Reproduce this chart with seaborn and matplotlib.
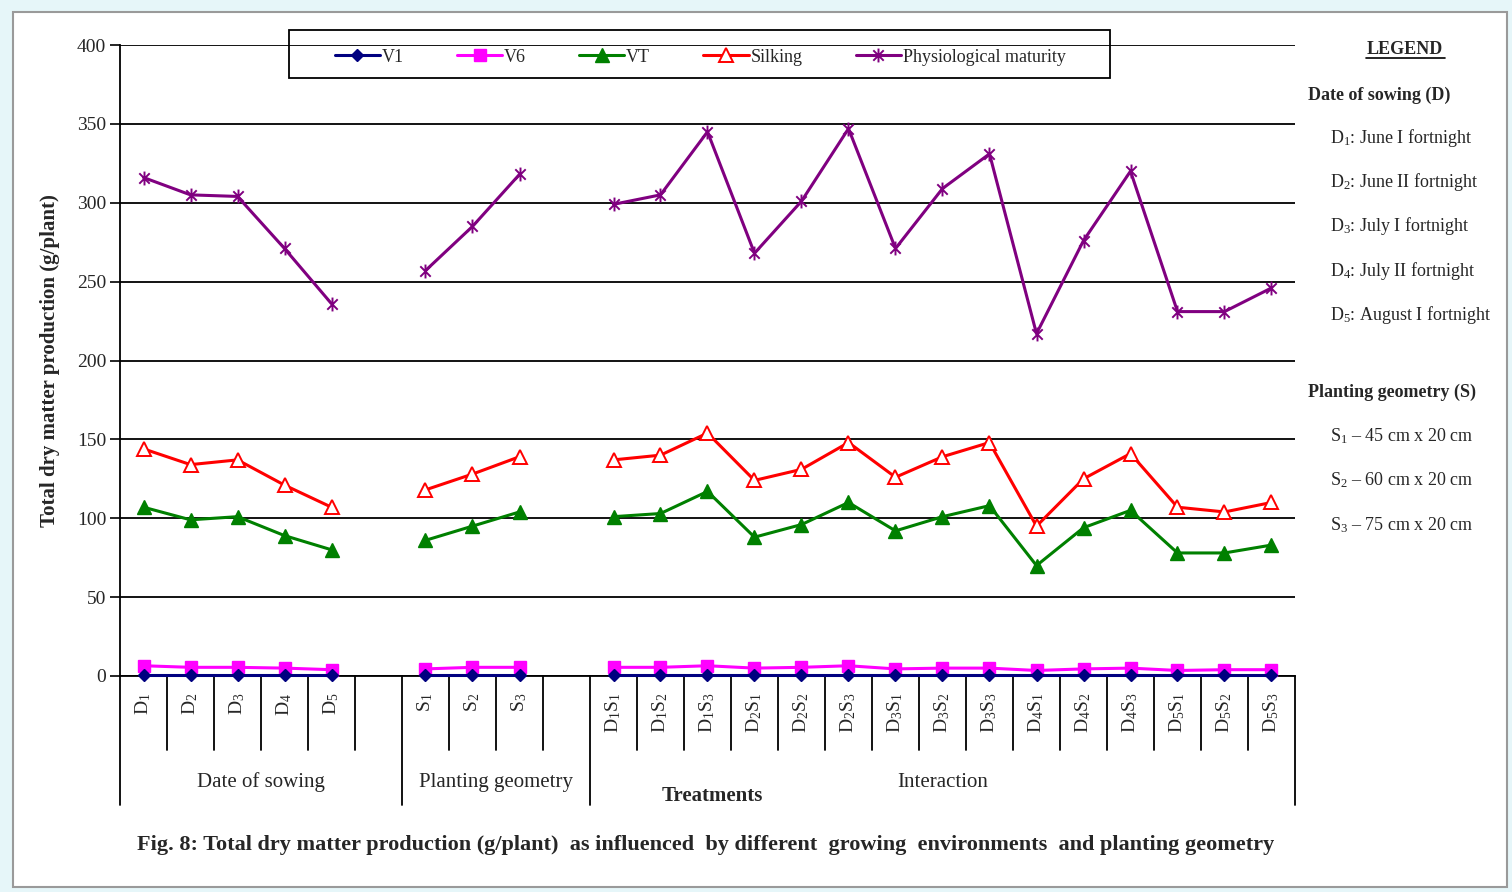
import numpy as np
import pandas as pd
import matplotlib
matplotlib.use("Agg")
import matplotlib.pyplot as plt
from matplotlib.path import Path
from matplotlib.patches import Rectangle
from matplotlib.lines import Line2D
import seaborn as sns

# ---- data (g/plant) ----
date_labels = ["D$_1$", "D$_2$", "D$_3$", "D$_4$", "D$_5$"]
spacing_labels = ["S$_1$", "S$_2$", "S$_3$"]
inter_labels = ["D$_%d$S$_%d$" % (d, s) for d in range(1, 6) for s in range(1, 4)]

stages = ["V1", "V6", "VT", "Silking", "Physiological maturity"]

v1_date = [0.5, 0.5, 0.5, 0.5, 0.5]
v1_spacing = [0.5, 0.5, 0.5]
v1_inter = [0.5] * 15

v6_date = [6.5, 5.5, 5.5, 5.0, 4.0]
v6_spacing = [4.5, 5.5, 5.5]
v6_inter = [5.5, 5.5, 6.5, 5.0, 5.5, 6.5, 4.5, 5.0, 5.0, 3.5, 4.5, 5.0, 3.5, 4.0, 4.0]

vt_date = [107, 99, 101, 89, 80]
vt_spacing = [86, 95, 104]
vt_inter = [101, 103, 117, 88, 96, 110, 92, 101, 108, 70, 94, 105, 78, 78, 83]

silk_date = [144, 134, 137, 121, 107]
silk_spacing = [118, 128, 139]
silk_inter = [137, 140, 154, 124, 131, 148, 126, 139, 148, 95, 125, 141, 107, 104, 110]

pm_date = [316, 305, 304, 271, 236]
pm_spacing = [257, 285, 318]
pm_inter = [299, 305, 345, 268, 301, 347, 271, 309, 331, 217, 276, 320, 231, 231, 246]

group_names = ["Date of sowing", "Planting geometry", "Interaction"]

# ---- category slots: one empty slot separates the three groups ----
pos_date = list(range(0, 5))
pos_spacing = list(range(6, 9))
pos_inter = list(range(10, 25))

series = {
    "V1": (v1_date, v1_spacing, v1_inter),
    "V6": (v6_date, v6_spacing, v6_inter),
    "VT": (vt_date, vt_spacing, vt_inter),
    "Silking": (silk_date, silk_spacing, silk_inter),
    "Physiological maturity": (pm_date, pm_spacing, pm_inter),
}

rows = []
for stage, groups in series.items():
    for gname, pos, vals in zip(group_names, (pos_date, pos_spacing, pos_inter), groups):
        for p, v in zip(pos, vals):
            rows.append({"stage": stage, "group": gname, "pos": p, "value": v})
df = pd.DataFrame(rows)

# ---- styling ----
sns.set_style("white")
plt.rcParams["font.family"] = ["Liberation Serif", "DejaVu Serif"]
plt.rcParams["mathtext.fontset"] = "custom"
plt.rcParams["mathtext.rm"] = "Liberation Serif"
plt.rcParams["mathtext.it"] = "Liberation Serif:italic"
plt.rcParams["mathtext.bf"] = "Liberation Serif:bold"

asterisk = Path(
    [(0, -1), (0, 1), (-0.75, -0.75), (0.75, 0.75), (-0.75, 0.75), (0.75, -0.75)],
    [Path.MOVETO, Path.LINETO] * 3,
)

styles = {
    "V1": dict(color="#000080", marker="D", markersize=6, markerfacecolor="#000080",
               markeredgecolor="#000080", markeredgewidth=1, zorder=5),
    "V6": dict(color="#FF00FF", marker="s", markersize=9, markerfacecolor="#FF00FF",
               markeredgecolor="#FF00FF", markeredgewidth=1, zorder=4),
    "VT": dict(color="#008000", marker="^", markersize=10, markerfacecolor="#008000",
               markeredgecolor="#008000", markeredgewidth=1, zorder=3),
    "Silking": dict(color="#FF0000", marker="^", markersize=10, markerfacecolor="white",
                    markeredgecolor="#FF0000", markeredgewidth=1.4, zorder=3),
    "Physiological maturity": dict(color="#800080", marker=asterisk, markersize=10,
                                   markerfacecolor="none", markeredgecolor="#800080",
                                   markeredgewidth=1.4, zorder=3),
}

fig = plt.figure(figsize=(15.12, 8.92), dpi=100)
fig.patch.set_facecolor("#e6f6f9")
fig.patches.append(Rectangle((13 / 1512, 1 - 887 / 892), (1507 - 13) / 1512, (887 - 12) / 892,
                             transform=fig.transFigure, facecolor="white",
                             edgecolor="#9a9a9a", linewidth=1.5, zorder=-5))

ax = fig.add_axes([120 / 1512, 1 - 676 / 892, (1295 - 120) / 1512, (676 - 45) / 892])
ax.set_facecolor("none")
ax.set_zorder(1)

handles = []
for stage in stages:
    sub = df[df["stage"] == stage]
    sns.lineplot(data=sub, x="pos", y="value", units="group", estimator=None,
                 sort=True, linewidth=2.2, legend=False, ax=ax, clip_on=False,
                 **styles[stage])
    handles.append(ax.lines[-1])

ax.set_xlim(-0.5, 24.5)
ax.set_ylim(0, 400)
ax.set_yticks(np.arange(0, 401, 50))
ax.yaxis.grid(True, color="black", linewidth=1.3)
ax.set_axisbelow(True)

ax.set_xticks(pos_date + pos_spacing + pos_inter)
ax.set_xticklabels(date_labels + spacing_labels + inter_labels, rotation=90,
                   fontsize=14, va="top")
ax.tick_params(axis="x", length=0, pad=12)
ax.tick_params(axis="y", length=7, width=1.2, direction="out", color="black",
               labelsize=14, pad=3, left=True)
ax.set_xlabel("")
ax.set_ylabel("Total dry matter production (g/plant)", fontsize=15,
              fontweight="bold", labelpad=12)

for side in ("top", "right"):
    ax.spines[side].set_visible(False)
for side in ("left", "bottom"):
    ax.spines[side].set_color("black")
    ax.spines[side].set_linewidth(1.3)

# separators under the category axis
xt = ax.get_xaxis_transform()
long_bounds = [-0.5, 5.5, 9.5, 24.5]
short_bounds = [0.5, 1.5, 2.5, 3.5, 4.5, 6.5, 7.5, 8.5] + [b + 0.5 for b in range(10, 24)]
for b in short_bounds:
    ax.plot([b, b], [0, -0.117], transform=xt, color="black", lw=1.3, clip_on=False)
for b in long_bounds:
    ax.plot([b, b], [0, -0.204], transform=xt, color="black", lw=1.3, clip_on=False)

# group captions
ax.text(2.5, -0.168, group_names[0], transform=xt, ha="center", va="center", fontsize=15)
ax.text(7.5, -0.168, group_names[1], transform=xt, ha="center", va="center", fontsize=15)
ax.text(17.0, -0.168, group_names[2], transform=xt, ha="center", va="center", fontsize=15)
ax.text(12.1, -0.19, "Treatments", transform=xt, ha="center", va="center", fontsize=15,
        fontweight="bold")

# series legend in a box above the plot
fig.patches.append(Rectangle((289 / 1512, 1 - 78 / 892), (1110 - 289) / 1512, 48 / 892,
                             transform=fig.transFigure, facecolor="none",
                             edgecolor="black", linewidth=1.3, zorder=5))
fig.legend(handles, stages, loc="center", bbox_to_anchor=(700 / 1512, 1 - 57 / 892),
           bbox_transform=fig.transFigure, ncol=5, frameon=False, fontsize=13,
           handlelength=2.5, handletextpad=0.1, columnspacing=2.95)

# explanation panel on the right
def fy(px):
    return 1 - px / 892

fig.text(1405 / 1512, fy(49), "LEGEND", ha="center", va="center", fontsize=13,
         fontweight="bold")
fig.add_artist(Line2D([1366 / 1512, 1445 / 1512], [fy(58), fy(58)], color="black", lw=1.2))
fig.text(1308 / 1512, fy(95), "Date of sowing (D)", ha="left", va="center",
         fontsize=13, fontweight="bold")
date_desc = ["June I fortnight", "June II fortnight", "July I fortnight",
             "July II fortnight", "August I fortnight"]
for lab, desc, ypx in zip(date_labels, date_desc, [138, 182, 226, 271, 315]):
    fig.text(1330 / 1512, fy(ypx), lab + ": " + desc, ha="left", va="center", fontsize=13)
fig.text(1308 / 1512, fy(392), "Planting geometry (S)", ha="left",
         va="center", fontsize=13, fontweight="bold")
spacing_desc = ["45 cm x 20 cm", "60 cm x 20 cm", "75 cm x 20 cm"]
for lab, desc, ypx in zip(spacing_labels, spacing_desc, [436, 480, 525]):
    fig.text(1330 / 1512, fy(ypx), lab + " \u2013 " + desc, ha="left", va="center", fontsize=13)

fig.text(706 / 1512, fy(845),
         "Fig. 8: Total dry matter production (g/plant)  as influenced  by different  "
         "growing  environments  and planting geometry",
         ha="center", va="center", fontsize=16, fontweight="bold")

fig.savefig("out.png", dpi=100, facecolor=fig.get_facecolor())
